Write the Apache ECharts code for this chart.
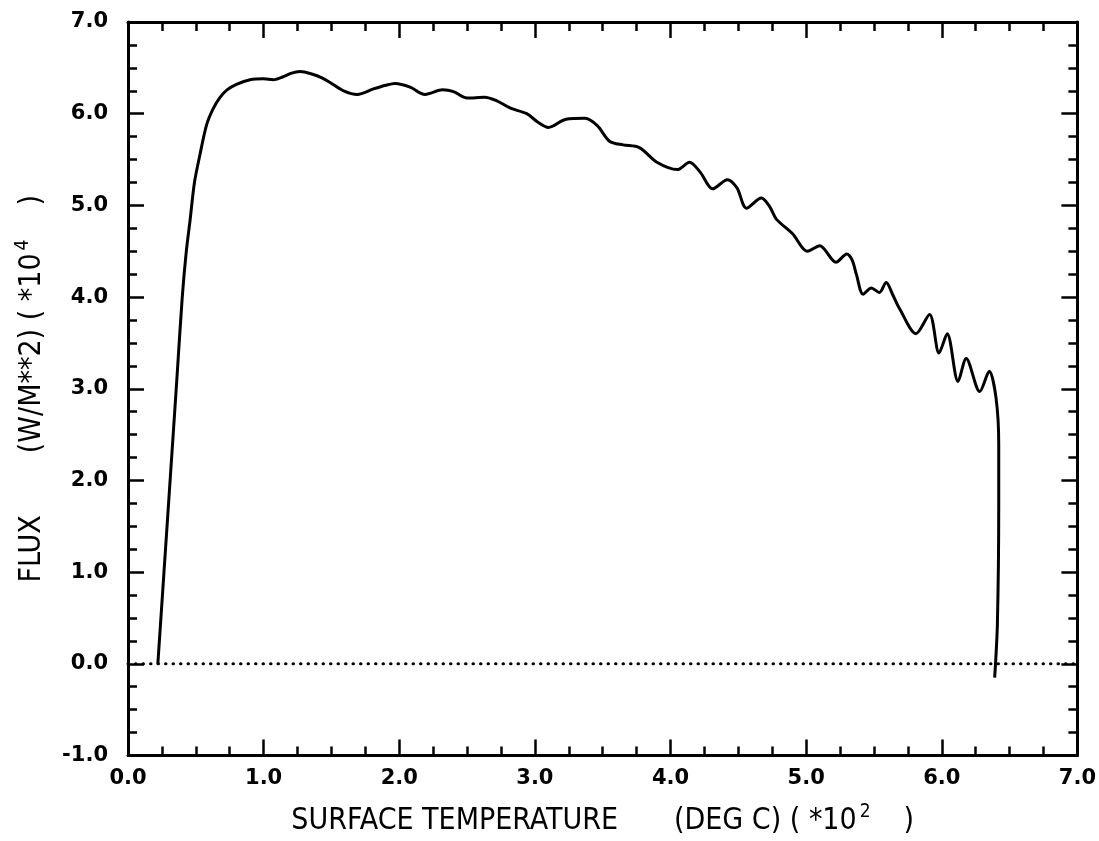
<!DOCTYPE html>
<html>
<head>
<meta charset="utf-8">
<script src="https://cdn.jsdelivr.net/npm/echarts@6/dist/echarts.min.js"></script>
<style>
html,body{margin:0;padding:0;background:#fff;}
#chart{width:1099px;height:841px;}
</style>
</head>
<body>
<div id="chart"></div>
<script>
// Surface temperature (x 10^2 deg C)
const temperature = [0.22,0.30,0.36,0.40,0.43,0.457,0.49,0.53,0.58,0.63,0.68,0.73,0.80,0.90,1.00,1.07,1.14,1.20,1.27,1.36,1.43,1.49,1.59,1.69,1.81,1.90,1.97,2.08,2.19,2.32,2.40,2.50,2.63,2.72,2.82,2.94,3.02,3.10,3.23,3.37,3.46,3.55,3.65,3.77,3.90,4.05,4.14,4.22,4.31,4.42,4.49,4.56,4.67,4.73,4.78,4.90,5.01,5.10,5.22,5.30,5.34,5.37,5.42,5.48,5.54,5.59,5.64,5.69,5.81,5.91,5.98,6.04,6.12,6.18,6.28,6.35,6.40,6.42,6.42,6.41,6.39];
// Flux (W/M**2) (x 10^4)
const flux = [0.00,1.77,3.10,4.00,4.50,4.83,5.25,5.55,5.88,6.06,6.18,6.26,6.32,6.37,6.38,6.37,6.40,6.44,6.46,6.43,6.39,6.34,6.25,6.21,6.27,6.31,6.33,6.29,6.21,6.26,6.24,6.17,6.18,6.14,6.06,6.00,5.91,5.85,5.94,5.95,5.87,5.70,5.66,5.63,5.47,5.39,5.47,5.36,5.18,5.28,5.19,4.97,5.08,4.99,4.85,4.69,4.50,4.56,4.38,4.47,4.40,4.25,4.03,4.10,4.05,4.16,4.02,3.87,3.60,3.81,3.39,3.60,3.08,3.33,2.97,3.19,2.90,2.40,1.74,0.43,-0.15];
// Zero reference line
const zeroX = [0, 7];
const zeroY = [0, 0];

const xTitle = 'SURFACE TEMPERATURE';
const xUnit = '(DEG C) ( *10';
const xExp = '2';
const yTitle = 'FLUX';
const yUnit = '(W/M**2) ( *10';
const yExp = '4';

const curve = temperature.map((t, i) => [t, flux[i]]);
const zero = zeroX.map((t, i) => [t, zeroY[i]]);

const labelFont = {fontFamily: 'DejaVu Sans, sans-serif', fontWeight: 'bold', fontSize: 21, color: '#000'};
const titleFont = 'Liberation Sans Narrow, DejaVu Sans Condensed, Liberation Sans, sans-serif';

const axisLine = {show: true, onZero: false, lineStyle: {color: '#000', width: 3}};
const majorTick = {show: true, inside: true, length: 16, lineStyle: {color: '#000', width: 2.5}};
const minorTick = {show: true, splitNumber: 4, length: 9, lineStyle: {color: '#000', width: 2.5}};

const chart = echarts.init(document.getElementById('chart'));
chart.setOption({
  animation: false,
  backgroundColor: '#fff',
  grid: {left: 128, right: 21, top: 22, bottom: 85, containLabel: false},
  xAxis: [
    {
      type: 'value', min: 0, max: 7, interval: 1, position: 'bottom',
      axisLine: axisLine, axisTick: majorTick,
      minorTick: Object.assign({}, minorTick),
      splitLine: {show: false},
      axisLabel: Object.assign({margin: 13, formatter: v => v.toFixed(1)}, labelFont),
      name: '{t|' + xTitle + '}{g|}{t|' + xUnit + '}{s|' + xExp + '}{t|)}',
      nameLocation: 'middle', nameGap: 47,
      nameTextStyle: {
        rich: {
          t: {fontFamily: titleFont, fontSize: 30, color: '#000', fontWeight: 'normal'},
          g: {width: 56},
          s: {fontFamily: titleFont, fontSize: 19, color: '#000', padding: [0, 33, 18, 3]}
        }
      }
    },
    {
      type: 'value', min: 0, max: 7, interval: 1, position: 'top',
      axisLine: axisLine, axisTick: majorTick,
      minorTick: Object.assign({}, minorTick),
      splitLine: {show: false}, axisLabel: {show: false}
    }
  ],
  yAxis: [
    {
      type: 'value', min: -1, max: 7, interval: 1, position: 'left',
      axisLine: axisLine, axisTick: majorTick,
      minorTick: Object.assign({}, minorTick),
      splitLine: {show: false},
      axisLabel: Object.assign({margin: 20, formatter: v => v.toFixed(1)}, labelFont),
      name: '{t|' + yTitle + '}{g|}{t|' + yUnit + '}{s|' + yExp + '}{t|)}',
      nameLocation: 'middle', nameGap: 77,
      nameTextStyle: {
        rich: {
          t: {fontFamily: titleFont, fontSize: 30, color: '#000', fontWeight: 'normal'},
          g: {width: 62},
          s: {fontFamily: titleFont, fontSize: 19, color: '#000', padding: [0, 34, 18, 3]}
        }
      }
    },
    {
      type: 'value', min: -1, max: 7, interval: 1, position: 'right',
      axisLine: axisLine, axisTick: majorTick,
      minorTick: Object.assign({}, minorTick),
      splitLine: {show: false}, axisLabel: {show: false}
    }
  ],
  series: [
    {
      type: 'line', data: zero, xAxisIndex: 0, yAxisIndex: 0,
      symbol: 'none', silent: true,
      lineStyle: {color: '#000', width: 3, type: [0.5, 7], cap: 'round'}
    },
    {
      type: 'line', data: curve, xAxisIndex: 0, yAxisIndex: 0,
      symbol: 'none', smooth: 0.3, silent: true,
      lineStyle: {color: '#000', width: 3}
    }
  ]
});
</script>
</body>
</html>
